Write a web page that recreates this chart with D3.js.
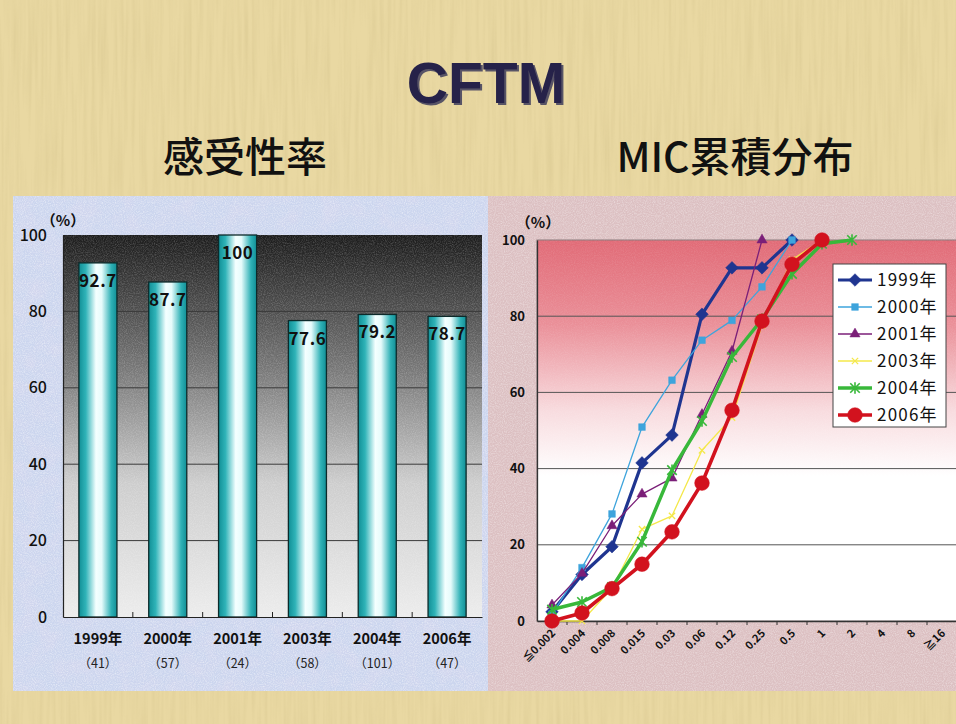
<!DOCTYPE html>
<html>
<head>
<meta charset="utf-8">
<script src="https://cdn.jsdelivr.net/npm/d3@7"></script>
<style>
  html, body { margin: 0; padding: 0; background: #e8d7a0; }
  svg { display: block; }
</style>
</head>
<body>
<svg id="chart" width="956" height="724"></svg>
<script>
// ---- susceptibility rate by year (bar chart) ----
const years = ["1999年", "2000年", "2001年", "2003年", "2004年", "2006年"];
const strainCounts = ["（41）", "（57）", "（24）", "（58）", "（101）", "（47）"];
const susceptibility = [92.7, 87.7, 100, 77.6, 79.2, 78.7];
const barTicks = [0, 20, 40, 60, 80, 100];

// ---- cumulative MIC distribution (line chart) ----
const micLabels = ["≦0.002", "0.004", "0.008", "0.015", "0.03", "0.06", "0.12", "0.25", "0.5", "1", "2", "4", "8", "≧16"];
const cum1999 = [2.4, 12.2, 19.5, 41.5, 48.8, 80.5, 92.7, 92.7, 100];
const cum2000 = [1.8, 14.0, 28.1, 50.9, 63.2, 73.7, 78.9, 87.7, 100];
const cum2001 = [4.2, 12.5, 25.0, 33.3, 37.5, 54.2, 70.8, 100];
const cum2003 = [0, 0, 8.6, 24.1, 27.6, 44.8, 53.4, 77.6, 94.8, 100];
const cum2004 = [3.0, 5.0, 8.9, 20.8, 39.6, 52.5, 69.3, 79.2, 91.1, 99.0, 100];
const cum2006 = [0, 2.1, 8.5, 14.9, 23.4, 36.2, 55.3, 78.7, 93.6, 100];
const lineTicks = [0, 20, 40, 60, 80, 100];

const seriesList = [
  { name: "1999年", values: cum1999, color: "#1f3590", width: 3.2, marker: "diamond", size: 11 },
  { name: "2000年", values: cum2000, color: "#3ea4dc", width: 1.3, marker: "square", size: 45 },
  { name: "2001年", values: cum2001, color: "#7b1f78", width: 1.3, marker: "triangle", size: 45 },
  { name: "2003年", values: cum2003, color: "#f4e84a", width: 1.3, marker: "cross", size: 40 },
  { name: "2004年", values: cum2004, color: "#38b83a", width: 3.5, marker: "asterisk", size: 90 },
  { name: "2006年", values: cum2006, color: "#d2121e", width: 3.6, marker: "circle", size: 170 }
];

const svg = d3.select("#chart");
const defs = svg.append("defs");
const jp = "'Noto Sans CJK JP', 'Noto Sans', sans-serif";

// paper-like grain used on the backgrounds
const grain = defs.append("filter").attr("id", "grain").attr("x", 0).attr("y", 0).attr("width", 1).attr("height", 1);
grain.append("feTurbulence").attr("type", "fractalNoise").attr("baseFrequency", "0.9").attr("numOctaves", 2).attr("seed", 3).attr("result", "n");
grain.append("feColorMatrix").attr("in", "n").attr("type", "matrix")
  .attr("values", "0 0 0 0 1  0 0 0 0 1  0 0 0 0 1  0 0 0 -1.6 1.0");

const mottle = defs.append("filter").attr("id", "mottle").attr("x", 0).attr("y", 0).attr("width", 1).attr("height", 1);
mottle.append("feTurbulence").attr("type", "fractalNoise").attr("baseFrequency", "0.05").attr("numOctaves", 3).attr("seed", 11).attr("result", "n");
mottle.append("feColorMatrix").attr("in", "n").attr("type", "matrix")
  .attr("values", "0 0 0 0 0.85  0 0 0 0 0.7  0 0 0 0 0.85  0 0 0 -1.2 0.75");

const stripes = defs.append("filter").attr("id", "stripes").attr("x", 0).attr("y", 0).attr("width", 1).attr("height", 1);
stripes.append("feTurbulence").attr("type", "fractalNoise").attr("baseFrequency", "0.25 0.01").attr("numOctaves", 2).attr("seed", 7).attr("result", "n");
stripes.append("feColorMatrix").attr("in", "n").attr("type", "matrix")
  .attr("values", "0 0 0 0 0.55  0 0 0 0 0.45  0 0 0 0 0.2  0 0 0 -0.9 0.55");

const shadow = defs.append("filter").attr("id", "titleShadow").attr("x", "-10%").attr("y", "-20%").attr("width", "130%").attr("height", "150%");
shadow.append("feDropShadow").attr("dx", 2).attr("dy", 2).attr("stdDeviation", 0.6)
  .attr("flood-color", "#4a4560").attr("flood-opacity", 0.9);

// page background
svg.append("rect").attr("width", 956).attr("height", 724).attr("fill", "#e9d8a2");
svg.append("rect").attr("width", 956).attr("height", 724).attr("filter", "url(#stripes)").attr("opacity", 0.5);

// ---- titles ----
svg.append("text").attr("x", 486).attr("y", 103).attr("text-anchor", "middle")
  .attr("font-family", "'Liberation Sans', Arial, sans-serif").attr("font-weight", "bold")
  .attr("font-size", 57).attr("fill", "#27224a").attr("filter", "url(#titleShadow)").text("CFTM");

svg.append("text").attr("x", 245).attr("y", 172).attr("text-anchor", "middle")
  .attr("font-family", jp).attr("font-weight", 500).attr("font-size", 41).attr("fill", "#111").text("感受性率");
svg.append("text").attr("x", 735).attr("y", 172).attr("text-anchor", "middle")
  .attr("font-family", jp).attr("font-weight", 500).attr("font-size", 41).attr("fill", "#111").text("MIC累積分布");

// ---- panels ----
svg.append("rect").attr("x", 13).attr("y", 196).attr("width", 475).attr("height", 495).attr("fill", "#cbd5ee");
svg.append("rect").attr("x", 13).attr("y", 196).attr("width", 475).attr("height", 495).attr("filter", "url(#mottle)").attr("opacity", 0.35);
svg.append("rect").attr("x", 13).attr("y", 196).attr("width", 475).attr("height", 495).attr("filter", "url(#grain)").attr("opacity", 0.55);
svg.append("rect").attr("x", 488).attr("y", 196).attr("width", 468).attr("height", 495).attr("fill", "#dcc0c2");
svg.append("rect").attr("x", 488).attr("y", 196).attr("width", 468).attr("height", 495).attr("filter", "url(#grain)").attr("opacity", 0.45);

// ================= bar chart =================
const bx = d3.scaleBand().domain(years).range([63, 482]).paddingInner(0.455).paddingOuter(0.2275);
const by = d3.scaleLinear().domain([0, 100]).range([617, 235]);

const plotBg = defs.append("linearGradient").attr("id", "barPlotBg").attr("x1", 0).attr("y1", 0).attr("x2", 0).attr("y2", 1);
plotBg.append("stop").attr("offset", "0%").attr("stop-color", "#1c1c1c");
plotBg.append("stop").attr("offset", "35%").attr("stop-color", "#777777");
plotBg.append("stop").attr("offset", "65%").attr("stop-color", "#cdcdcd");
plotBg.append("stop").attr("offset", "100%").attr("stop-color", "#ececec");

svg.append("rect").attr("x", 63).attr("y", by(100)).attr("width", 419).attr("height", by(0) - by(100))
  .attr("fill", "url(#barPlotBg)");
svg.append("rect").attr("x", 63).attr("y", by(100)).attr("width", 419).attr("height", by(0) - by(100))
  .attr("filter", "url(#grain)").attr("opacity", 0.25);

svg.append("g").selectAll("line").data(barTicks.filter(d => d > 0 && d < 100)).join("line")
  .attr("x1", 63).attr("x2", 482).attr("y1", d => by(d)).attr("y2", d => by(d))
  .attr("stroke", "#3a3a3a").attr("stroke-width", 1);

const cyl = defs.append("linearGradient").attr("id", "cylinder").attr("x1", 0).attr("y1", 0).attr("x2", 1).attr("y2", 0);
cyl.append("stop").attr("offset", "0%").attr("stop-color", "#118f96");
cyl.append("stop").attr("offset", "18%").attr("stop-color", "#2fb3b8");
cyl.append("stop").attr("offset", "45%").attr("stop-color", "#f4ffff");
cyl.append("stop").attr("offset", "60%").attr("stop-color", "#e6fbfb");
cyl.append("stop").attr("offset", "85%").attr("stop-color", "#2fb1b6");
cyl.append("stop").attr("offset", "100%").attr("stop-color", "#118f96");

svg.append("g").selectAll("rect").data(susceptibility).join("rect")
  .attr("x", (d, i) => bx(years[i])).attr("y", d => by(d))
  .attr("width", bx.bandwidth()).attr("height", d => by(0) - by(d))
  .attr("fill", "url(#cylinder)").attr("stroke", "#0d2a2a").attr("stroke-width", 1.3);

svg.append("g").selectAll("text").data(susceptibility).join("text")
  .attr("x", (d, i) => bx(years[i]) + bx.bandwidth() / 2).attr("y", d => by(d) + 24)
  .attr("text-anchor", "middle").attr("font-family", jp).attr("font-weight", "bold")
  .attr("font-size", 17).attr("letter-spacing", 0.5).attr("fill", "#111")
  .text(d => d3.format("")(d));

// axes of the bar chart
const barYAxis = d3.axisLeft(by).tickValues(barTicks).tickSize(0).tickPadding(16);
const gby = svg.append("g").attr("transform", "translate(63,0)").call(barYAxis);
gby.select(".domain").attr("stroke", "#222").attr("stroke-width", 1.2);
gby.selectAll("text").attr("font-family", jp).attr("font-weight", 500).attr("font-size", 16).attr("fill", "#111");

const barXAxis = d3.axisBottom(bx).tickSize(0).tickPadding(0).tickFormat("");
const gbx = svg.append("g").attr("transform", `translate(0,${by(0)})`).call(barXAxis);
gbx.select(".domain").attr("stroke", "#222").attr("stroke-width", 1.2);
// small separators between categories
svg.append("g").selectAll("line").data(years.slice(1)).join("line")
  .attr("x1", d => bx(d) - bx.step() * bx.paddingInner() / 2).attr("x2", d => bx(d) - bx.step() * bx.paddingInner() / 2)
  .attr("y1", by(0)).attr("y2", by(0) - 5).attr("stroke", "#222").attr("stroke-width", 1);

svg.append("g").selectAll("text").data(years).join("text")
  .attr("x", d => bx(d) + bx.bandwidth() / 2).attr("y", 644)
  .attr("text-anchor", "middle").attr("font-family", jp).attr("font-weight", "bold")
  .attr("font-size", 14.5).attr("fill", "#111").text(d => d);
svg.append("g").selectAll("text").data(strainCounts).join("text")
  .attr("x", (d, i) => bx(years[i]) + bx.bandwidth() / 2).attr("y", 668)
  .attr("text-anchor", "middle").attr("font-family", jp).attr("font-size", 12.5)
  .attr("fill", "#222").text(d => d);

svg.append("text").attr("x", 63).attr("y", 226).attr("text-anchor", "middle")
  .attr("font-family", jp).attr("font-weight", "bold").attr("font-size", 15).attr("fill", "#111").text("（%）");

// ================= line chart =================
const lx = d3.scalePoint().domain(micLabels).range([537, 957]).padding(0.5);
const ly = d3.scaleLinear().domain([0, 100]).range([621, 240]);

const redBg = defs.append("linearGradient").attr("id", "lineBg").attr("x1", 0).attr("y1", 0).attr("x2", 0).attr("y2", 1);
redBg.append("stop").attr("offset", "0%").attr("stop-color", "#e16b77");
redBg.append("stop").attr("offset", "22%").attr("stop-color", "#ea8f98");
redBg.append("stop").attr("offset", "45%").attr("stop-color", "#f8dcdf");
redBg.append("stop").attr("offset", "62%").attr("stop-color", "#ffffff");
redBg.append("stop").attr("offset", "100%").attr("stop-color", "#ffffff");

svg.append("rect").attr("x", 537).attr("y", ly(100)).attr("width", 420).attr("height", ly(0) - ly(100))
  .attr("fill", "url(#lineBg)").attr("stroke", "#8a7a7c").attr("stroke-width", 1);
svg.append("rect").attr("x", 537).attr("y", ly(100)).attr("width", 420).attr("height", ly(0) - ly(100))
  .attr("filter", "url(#grain)").attr("opacity", 0.12);

svg.append("g").selectAll("line").data(lineTicks.filter(d => d > 0 && d < 100)).join("line")
  .attr("x1", 537).attr("x2", 957).attr("y1", d => ly(d)).attr("y2", d => ly(d))
  .attr("stroke", "#555").attr("stroke-width", 1);

const lineYAxis = d3.axisLeft(ly).tickValues(lineTicks).tickSize(0).tickPadding(12);
const gly = svg.append("g").attr("transform", "translate(537,0)").call(lineYAxis);
gly.select(".domain").attr("stroke", "#333").attr("stroke-width", 1.3);
gly.selectAll("text").attr("font-family", jp).attr("font-weight", "bold").attr("font-size", 13).attr("fill", "#111");

const lineXAxis = d3.axisBottom(lx).tickSize(0).tickFormat("");
const glx = svg.append("g").attr("transform", `translate(0,${ly(0)})`).call(lineXAxis);
glx.select(".domain").attr("stroke", "#333").attr("stroke-width", 1.3);
svg.append("g").selectAll("line").data(micLabels.slice(1)).join("line")
  .attr("x1", d => lx(d) - lx.step() / 2).attr("x2", d => lx(d) - lx.step() / 2)
  .attr("y1", ly(0)).attr("y2", ly(0) + 4).attr("stroke", "#333").attr("stroke-width", 1);

svg.append("g").selectAll("text").data(micLabels).join("text")
  .attr("transform", d => `translate(${lx(d) + 4},${ly(0) + 13}) rotate(-45)`)
  .attr("text-anchor", "end").attr("font-family", jp).attr("font-weight", "bold")
  .attr("font-size", 11).attr("fill", "#111").text(d => d);

svg.append("text").attr("x", 538).attr("y", 228).attr("text-anchor", "middle")
  .attr("font-family", jp).attr("font-weight", "bold").attr("font-size", 15).attr("fill", "#111").text("（%）");

// marker shapes
function markerPath(kind, size) {
  const r = Math.sqrt(size) / 2;
  if (kind === "diamond") return `M0,${-size / 2 * 1.15}L${size / 2 * 1.15},0L0,${size / 2 * 1.15}L${-size / 2 * 1.15},0Z`;
  if (kind === "cross") return `M${-r},${-r}L${r},${r}M${-r},${r}L${r},${-r}`;
  if (kind === "asterisk") return `M${-r},${-r}L${r},${r}M${-r},${r}L${r},${-r}M0,${-r * 1.2}L0,${r * 1.2}`;
  const t = { square: d3.symbolSquare, triangle: d3.symbolTriangle, circle: d3.symbolCircle }[kind];
  return d3.symbol().type(t).size(size)();
}

const lineGen = d3.line().x((d, i) => lx(micLabels[i])).y(d => ly(d));

const seriesG = svg.append("g").selectAll("g").data(seriesList).join("g");
seriesG.append("path").attr("d", s => lineGen(s.values)).attr("fill", "none")
  .attr("stroke", s => s.color).attr("stroke-width", s => s.width).attr("stroke-linejoin", "round");
seriesG.each(function (s) {
  d3.select(this).selectAll("path.mk").data(s.values).join("path").attr("class", "mk")
    .attr("transform", (d, i) => `translate(${lx(micLabels[i])},${ly(d)})`)
    .attr("d", markerPath(s.marker, s.size))
    .attr("fill", (s.marker === "cross" || s.marker === "asterisk") ? "none" : s.color)
    .attr("stroke", s.color)
    .attr("stroke-width", s.marker === "asterisk" ? 1.6 : (s.marker === "cross" ? 1.3 : 0.5));
});

// legend
const lg = svg.append("g").attr("transform", "translate(833,264)");
lg.append("rect").attr("width", 113).attr("height", 163).attr("fill", "#ffffff").attr("stroke", "#444").attr("stroke-width", 1);
const li = lg.selectAll("g").data(seriesList).join("g").attr("transform", (d, i) => `translate(0,${16 + i * 27})`);
li.append("line").attr("x1", 5).attr("x2", 39).attr("stroke", s => s.color).attr("stroke-width", s => s.width);
li.append("path").attr("transform", "translate(22,0)").attr("d", s => markerPath(s.marker, s.size))
  .attr("fill", s => (s.marker === "cross" || s.marker === "asterisk") ? "none" : s.color)
  .attr("stroke", s => s.color).attr("stroke-width", s => s.marker === "asterisk" ? 1.6 : (s.marker === "cross" ? 1.3 : 0.5));
li.append("text").attr("x", 44).attr("y", 6).attr("font-family", jp).attr("font-size", 17)
  .attr("letter-spacing", 1.2).attr("fill", "#111").text(s => s.name);
</script>
</body>
</html>
